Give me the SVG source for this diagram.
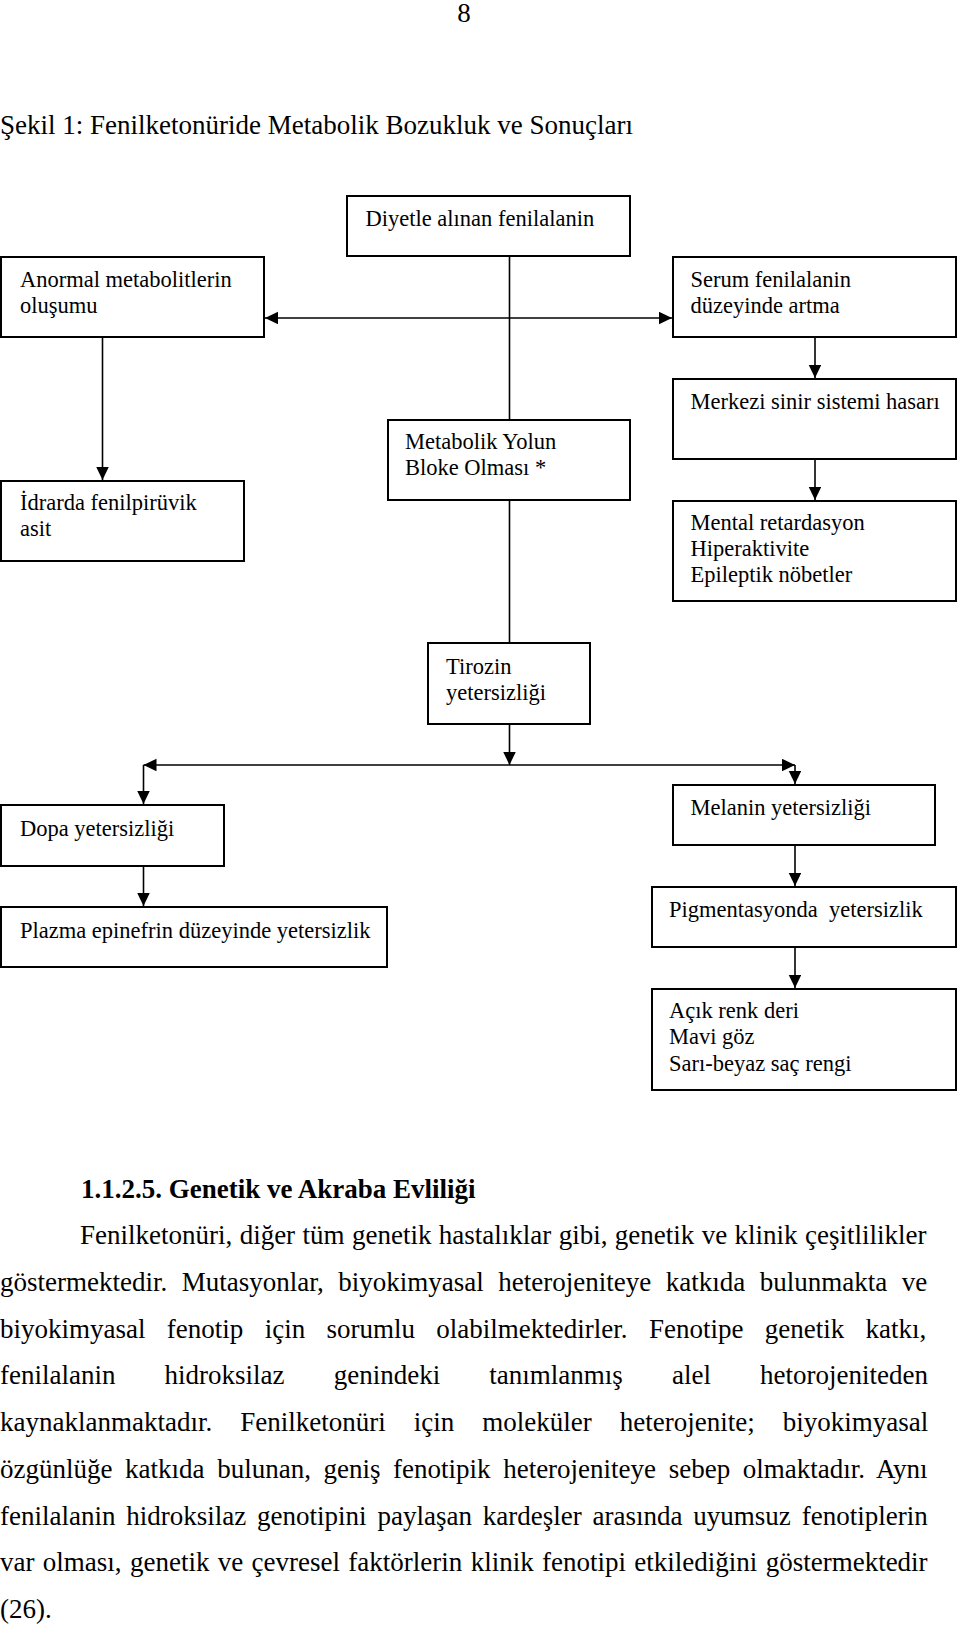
<svg xmlns="http://www.w3.org/2000/svg" width="960" height="1625" viewBox="0 0 960 1625">
<style>
  text { font-family: "Liberation Serif", "Times New Roman", serif; fill: #000; }
  .bt { font-size: 22.5px; }
  .pg { font-size: 27px; }
  .hd { font-size: 27px; font-weight: bold; }
  .box { fill: #fff; stroke: #000; stroke-width: 2; }
  .conn line { stroke: #000; stroke-width: 1.6; fill: none; }
</style>
<defs>
  <marker id="ah" markerUnits="userSpaceOnUse" markerWidth="14" markerHeight="13" refX="13" refY="6.25" orient="auto-start-reverse">
    <path d="M0,0 L13,6.25 L0,12.5 z" fill="#000"/>
  </marker>
</defs>

<text class="pg" x="464" y="22" text-anchor="middle">8</text>
<text class="pg" x="0" y="134">Şekil 1: Fenilketonüride Metabolik Bozukluk ve Sonuçları</text>

<g class="conn">
  <line x1="509.5" y1="257" x2="509.5" y2="419"/>
  <line x1="265" y1="318" x2="672" y2="318" marker-start="url(#ah)" marker-end="url(#ah)"/>
  <line x1="102.5" y1="338" x2="102.5" y2="480" marker-end="url(#ah)"/>
  <line x1="815" y1="338" x2="815" y2="378" marker-end="url(#ah)"/>
  <line x1="815" y1="460" x2="815" y2="500" marker-end="url(#ah)"/>
  <line x1="509.5" y1="501" x2="509.5" y2="642"/>
  <line x1="509.5" y1="725" x2="509.5" y2="765" marker-end="url(#ah)"/>
  <line x1="143.5" y1="765" x2="795" y2="765" marker-start="url(#ah)" marker-end="url(#ah)"/>
  <line x1="143.5" y1="765" x2="143.5" y2="804" marker-end="url(#ah)"/>
  <line x1="795" y1="765" x2="795" y2="784" marker-end="url(#ah)"/>
  <line x1="143.5" y1="867" x2="143.5" y2="906" marker-end="url(#ah)"/>
  <line x1="795" y1="846" x2="795" y2="886" marker-end="url(#ah)"/>
  <line x1="795" y1="948" x2="795" y2="988" marker-end="url(#ah)"/>
</g>

<g id="diyetle">
  <rect class="box" x="347" y="196" width="283" height="60"/>
  <text class="bt" x="365.5" y="226">Diyetle alınan fenilalanin</text>
</g>
<g id="anormal">
  <rect class="box" x="1" y="257" width="263" height="80"/>
  <text class="bt" x="20" y="287">Anormal metabolitlerin</text>
  <text class="bt" x="20" y="312.5">oluşumu</text>
</g>
<g id="serum">
  <rect class="box" x="673" y="257" width="283" height="80"/>
  <text class="bt" x="690.5" y="287">Serum fenilalanin</text>
  <text class="bt" x="690.5" y="312.5">düzeyinde artma</text>
</g>
<g id="merkezi">
  <rect class="box" x="673" y="379" width="283" height="80"/>
  <text class="bt" x="690.5" y="408.5">Merkezi sinir sistemi hasarı</text>
</g>
<g id="metabolik">
  <rect class="box" x="388" y="420" width="242" height="80"/>
  <text class="bt" x="405" y="449">Metabolik Yolun</text>
  <text class="bt" x="405" y="475">Bloke Olması *</text>
</g>
<g id="idrarda">
  <rect class="box" x="1" y="481" width="243" height="80"/>
  <text class="bt" x="20" y="510">İdrarda fenilpirüvik</text>
  <text class="bt" x="20" y="536">asit</text>
</g>
<g id="mental">
  <rect class="box" x="673" y="501" width="283" height="100"/>
  <text class="bt" x="690.5" y="530">Mental retardasyon</text>
  <text class="bt" x="690.5" y="556">Hiperaktivite</text>
  <text class="bt" x="690.5" y="582">Epileptik nöbetler</text>
</g>
<g id="tirozin">
  <rect class="box" x="428" y="643" width="162" height="81"/>
  <text class="bt" x="446" y="673.5">Tirozin</text>
  <text class="bt" x="446" y="699.5">yetersizliği</text>
</g>
<g id="melanin">
  <rect class="box" x="673" y="785" width="262" height="60"/>
  <text class="bt" x="690.5" y="815">Melanin yetersizliği</text>
</g>
<g id="dopa">
  <rect class="box" x="1" y="805" width="223" height="61"/>
  <text class="bt" x="20" y="835.5">Dopa yetersizliği</text>
</g>
<g id="plazma">
  <rect class="box" x="1" y="907" width="386" height="60"/>
  <text class="bt" x="20" y="937.5">Plazma epinefrin düzeyinde yetersizlik</text>
</g>
<g id="pigmentasyonda">
  <rect class="box" x="652" y="887" width="304" height="60"/>
  <text class="bt" x="669" y="916.5" xml:space="preserve">Pigmentasyonda  yetersizlik</text>
</g>
<g id="acik">
  <rect class="box" x="652" y="989" width="304" height="101"/>
  <text class="bt" x="669" y="1018">Açık renk deri</text>
  <text class="bt" x="669" y="1044">Mavi göz</text>
  <text class="bt" x="669" y="1070.5">Sarı-beyaz saç rengi</text>
</g>

<text class="hd" x="81" y="1198">1.1.2.5. Genetik ve Akraba Evliliği</text>
<text class="pg" x="80" y="1244" word-spacing="0.65">Fenilketonüri, diğer tüm genetik hastalıklar gibi, genetik ve klinik çeşitlilikler</text>
<text class="pg" x="0" y="1290.75" word-spacing="7.75">göstermektedir. Mutasyonlar, biyokimyasal heterojeniteye katkıda bulunmakta ve</text>
<text class="pg" x="0" y="1337.5" word-spacing="14.6">biyokimyasal fenotip için sorumlu olabilmektedirler. Fenotipe genetik katkı,</text>
<text class="pg" x="0" y="1384.25" word-spacing="42.4">fenilalanin hidroksilaz genindeki tanımlanmış alel hetorojeniteden</text>
<text class="pg" x="0" y="1431" word-spacing="21.3">kaynaklanmaktadır. Fenilketonüri için moleküler heterojenite; biyokimyasal</text>
<text class="pg" x="0" y="1477.75" word-spacing="5.85">özgünlüğe katkıda bulunan, geniş fenotipik heterojeniteye sebep olmaktadır. Aynı</text>
<text class="pg" x="0" y="1524.5" word-spacing="4.1">fenilalanin hidroksilaz genotipini paylaşan kardeşler arasında uyumsuz fenotiplerin</text>
<text class="pg" x="0" y="1571.25" word-spacing="1.6">var olması, genetik ve çevresel faktörlerin klinik fenotipi etkilediğini göstermektedir</text>
<text class="pg" x="0" y="1618">(26).</text>
</svg>
